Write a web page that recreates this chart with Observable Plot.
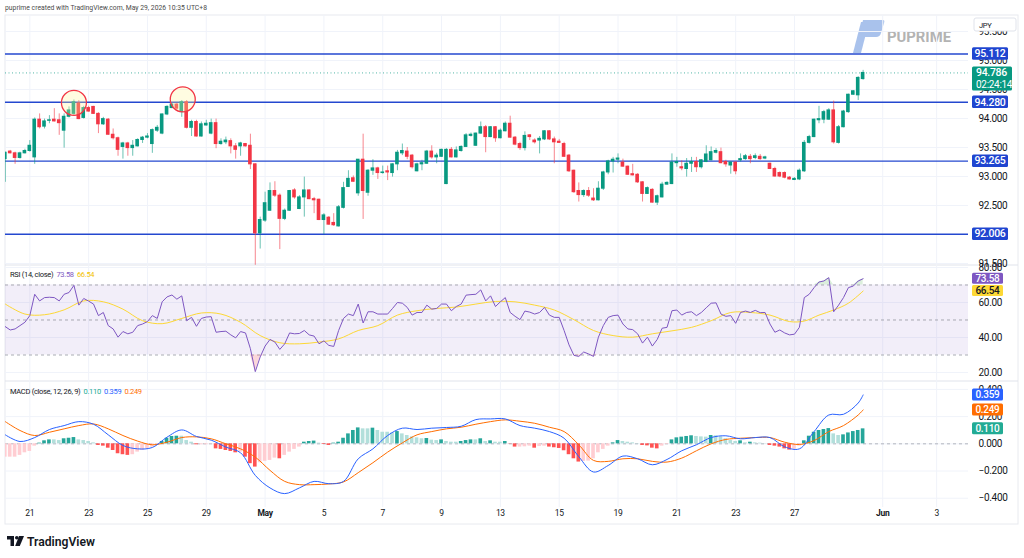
<!DOCTYPE html>
<html><head><meta charset="utf-8">
<script src="https://cdn.jsdelivr.net/npm/d3@7"></script>
<script src="https://cdn.jsdelivr.net/npm/@observablehq/plot@0.6"></script>
<style>
body{margin:0;background:#fff;}
#wrap{position:relative;width:1024px;height:558px;overflow:hidden;background:#fff;}
#wrap svg{position:absolute;left:0;}
</style></head><body><div id="wrap"></div>
<script>
// ---------- data ----------
const candleOpen = [93.30,93.43,93.40,93.32,93.40,93.44,93.33,93.98,93.86,93.96, 93.98,93.97,93.79,94.03,94.08,94.26,94.01,94.18,94.20,94.08, 93.90,93.98,93.72,93.66,93.51,93.57,93.49,93.52,93.63,93.67, 93.56,93.79,93.74,94.07,94.18,94.24,94.11,94.28,93.84,93.94, 93.69,93.88,93.74,93.92,93.56,93.59,93.61,93.52,93.52,93.56, 93.53,93.21,92.02,92.24,92.41,92.75,92.67,92.27,92.41,92.76, 92.44,92.64,92.76,92.61,92.60,92.25,92.29,92.20,92.14,92.46, 92.82,92.97,92.71,93.29,92.72,93.10,93.14,93.06,93.09,93.06, 93.21,93.40,93.43,93.36,93.09,93.21,93.22,93.43,93.33,93.34, 92.87,93.46,93.33,93.44,93.51,93.70,93.53,93.74,93.85,93.68, 93.85,93.66,93.78,93.91,93.67,93.56,93.49,93.71,93.62,93.62, 93.64,93.78,93.64,93.60,93.56,93.36,93.10,92.75,92.68,92.75, 92.62,92.59,92.79,93.07,93.26,93.29,93.24,93.17,93.04,93.03, 92.90,92.70,92.77,92.55,92.64,92.86,92.87,93.23,93.16,93.13, 93.22,93.25,93.16,93.25,93.28,93.41,93.42,93.25,93.19,93.24, 93.28,93.30,93.34,93.32,93.34,93.31,93.22,93.13,93.06,93.06, 92.98,92.94,92.95,93.09,93.58,93.68,93.97,93.98,93.98,94.14, 93.58,93.85,94.11,94.41,94.40,94.68];
const candleHigh = [93.42,93.45,93.42,93.42,93.47,93.62,94.01,94.08,93.99,94.05, 94.17,94.08,94.08,94.20,94.32,94.31,94.21,94.21,94.21,94.10, 94.02,94.00,93.82,93.68,93.59,93.59,93.62,93.65,93.69,93.74, 93.82,93.88,94.08,94.22,94.26,94.26,94.31,94.31,93.97,93.97, 93.94,93.97,93.99,93.99,93.65,93.68,93.65,93.57,93.59,93.57, 93.73,93.22,92.30,92.73,92.89,92.91,92.70,92.44,92.76,92.79, 92.67,92.99,92.77,92.64,92.61,92.36,92.31,92.36,92.50,92.90, 93.10,93.01,93.29,93.73,93.12,93.29,93.16,93.18,93.18,93.22, 93.45,93.56,93.50,93.38,93.23,93.28,93.45,93.53,93.40,93.47, 93.48,93.50,93.51,93.53,93.74,93.75,93.75,93.94,93.88,93.86, 93.86,93.82,93.94,94.04,93.69,93.59,93.77,93.72,93.65,93.69, 93.79,93.79,93.68,93.64,93.59,93.38,93.11,92.89,92.77,92.81, 92.79,92.91,93.09,93.28,93.33,93.39,93.30,93.18,93.21,93.05, 92.91,92.82,92.79,92.68,92.90,92.91,93.39,93.33,93.27,93.31, 93.33,93.33,93.29,93.53,93.51,93.48,93.49,93.28,93.25,93.25, 93.39,93.38,93.38,93.39,93.38,93.35,93.23,93.16,93.08,93.08, 93.00,92.98,93.13,93.62,93.71,93.99,94.21,94.14,94.17,94.30, 93.88,94.14,94.42,94.48,94.72,94.83];
const candleLow = [92.90,93.39,93.21,93.30,93.39,93.42,93.21,93.82,93.82,93.91, 93.94,93.71,93.49,94.01,94.05,93.98,93.99,94.11,94.07,93.74, 93.88,93.71,93.63,93.35,93.30,93.35,93.35,93.51,93.57,93.65, 93.40,93.76,93.72,94.05,94.17,94.14,94.02,93.82,93.69,93.68, 93.68,93.87,93.72,93.48,93.54,93.55,93.39,93.30,93.35,93.51, 93.12,91.47,91.75,92.21,92.40,92.64,91.74,92.24,92.40,92.61, 92.43,92.30,92.60,92.36,92.24,92.00,92.16,92.14,92.13,92.44, 92.81,92.90,92.66,92.26,92.66,93.02,92.95,93.04,92.93,92.99, 93.10,93.36,93.29,93.13,93.08,93.10,93.21,93.30,93.22,93.33, 92.86,93.32,93.32,93.42,93.50,93.68,93.52,93.73,93.41,93.67, 93.59,93.65,93.77,93.66,93.53,93.45,93.44,93.62,93.56,93.39, 93.62,93.62,93.22,93.57,93.33,93.07,92.71,92.56,92.64,92.64, 92.57,92.58,92.76,93.03,93.06,93.22,93.16,93.02,93.01,92.88, 92.56,92.69,92.54,92.50,92.63,92.85,92.86,93.16,93.10,92.99, 93.07,93.07,93.13,93.24,93.27,93.39,93.22,93.16,93.04,93.03, 93.25,93.28,93.22,93.29,93.28,93.29,93.12,92.99,92.98,92.96, 92.94,92.93,92.93,93.07,93.56,93.67,93.91,93.91,93.97,93.56, 93.56,93.84,94.09,94.40,94.31,94.66];
const candleClose = [93.41,93.40,93.32,93.40,93.44,93.53,93.98,93.85,93.95,93.97, 93.95,93.92,94.03,94.14,94.28,93.99,94.18,94.12,94.08,93.90, 93.99,93.72,93.66,93.46,93.57,93.49,93.53,93.63,93.67,93.69, 93.80,93.84,94.07,94.20,94.24,94.17,94.28,93.84,93.94,93.69, 93.90,93.91,93.92,93.56,93.60,93.62,93.52,93.46,93.57,93.52, 93.21,92.02,92.25,92.54,92.75,92.67,92.27,92.41,92.75,92.64, 92.64,92.76,92.61,92.59,92.25,92.33,92.17,92.16,92.47,92.80, 92.96,92.91,93.29,92.75,93.10,93.14,93.06,93.07,93.07,93.21, 93.41,93.44,93.34,93.16,93.21,93.23,93.43,93.33,93.36,93.46, 93.46,93.33,93.45,93.51,93.71,93.72,93.74,93.85,93.68,93.85, 93.66,93.79,93.91,93.67,93.55,93.49,93.70,93.68,93.59,93.65, 93.78,93.64,93.59,93.58,93.34,93.09,92.73,92.68,92.75,92.67, 92.59,92.79,93.07,93.26,93.29,93.31,93.17,93.03,93.02,92.90, 92.70,92.80,92.55,92.66,92.86,92.89,93.24,93.25,93.14,93.22, 93.25,93.16,93.28,93.38,93.42,93.44,93.23,93.21,93.24,93.09, 93.30,93.35,93.30,93.35,93.30,93.33,93.13,93.00,93.00,92.98, 92.95,92.96,93.10,93.58,93.68,93.98,93.99,94.11,94.14,93.59, 93.85,94.12,94.41,94.47,94.70,94.786];

const rsiValues = [46.2,44.3,44.9,46.8,48.7,52.5,64.7,60.9,62.8,63.0, 62.8,60.9,64.7,65.7,69.8,58.5,62.3,60.8,59.1,52.5, 54.3,46.8,44.9,40.2,43.4,42.1,43.0,46.8,47.7,49.1, 52.5,50.9,60.4,63.2,64.3,61.9,63.8,49.6,51.5,46.4, 50.9,51.7,51.9,43.0,43.4,43.6,41.5,39.8,43.4,42.6, 33.6,20.5,28.9,35.1,38.9,37.4,33.2,36.4,42.6,42.1, 42.3,44.0,41.5,40.8,36.4,38.1,35.5,34.9,44.0,50.9, 53.4,52.5,59.1,48.3,54.7,54.7,53.4,53.4,53.4,56.6, 60.0,59.6,57.2,52.8,54.3,54.3,58.5,56.2,56.6,59.1, 59.1,55.3,57.7,59.1,64.2,64.5,64.7,67.2,60.9,63.8, 57.7,60.4,62.8,54.3,52.1,50.2,55.1,54.5,53.4,54.3, 57.2,52.8,51.5,51.5,44.0,35.8,29.8,29.2,31.7,30.6, 29.2,40.2,46.8,51.5,52.5,52.8,47.7,44.9,44.5,42.1, 36.8,40.2,35.1,38.9,45.3,45.8,55.3,55.7,52.8,54.3, 54.7,52.5,54.3,57.0,59.6,59.8,53.4,52.1,52.5,48.1, 54.3,55.1,54.3,55.5,54.2,54.3,47.7,43.0,44.3,42.6, 41.5,41.9,45.8,62.8,64.7,68.5,71.7,72.3,74.2,54.7, 58.5,62.8,68.5,69.4,72.3,73.58];
const rsiMaIndex = [1,5,9,13,17,21,25,29,33,37,41,45,49,53,57,61,65,69,73,77,81,85,89,93,97,101,105,109,113,117,121,125,129,133,137,141,145,149,153,157,161,164,167,170,173,176];
const rsiMaValues = [59.1,53.4,53.0,55.8,60.9,60.4,56.2,49.6,47.9,50.9,54.0,53.4,48.7,41.1,37.0,36.4,37.4,39.2,44.0,46.8,52.8,55.3,56.6,57.4,59.1,60.6,60.4,58.5,55.7,50.2,44.0,41.1,40.2,42.1,43.8,45.8,49.6,54.3,54.3,52.8,49.1,49.4,52.8,55.7,59.6,66.54];

const macdIndex = [1,4,7,10,13,16,19,22,25,28,31,34,37,40,43,46,49,52,55,58,61,64,67,70,73,76,79,82,85,88,91,94,97,100,103,106,109,112,115,118,121,124,127,130,133,136,139,142,145,148,151,154,157,160,163,166,169,172,175,176];
const macdValues = [0.066,0.017,0.046,0.105,0.134,0.163,0.144,0.066,-0.012,-0.037,-0.027,0.049,0.102,0.054,0.027,-0.024,-0.066,-0.232,-0.324,-0.366,-0.324,-0.276,-0.293,-0.276,-0.110,-0.037,0.061,0.115,0.105,0.115,0.120,0.129,0.178,0.183,0.183,0.134,0.115,0.090,0.041,-0.095,-0.207,-0.159,-0.090,-0.110,-0.154,-0.115,-0.051,-0.007,0.046,0.059,0.037,0.046,0.046,-0.022,-0.037,0.090,0.212,0.217,0.300,0.359];
const signalValues = [0.163,0.098,0.061,0.085,0.110,0.134,0.146,0.110,0.061,0.020,-0.007,0.012,0.046,0.051,0.037,0.000,-0.037,-0.098,-0.195,-0.276,-0.300,-0.300,-0.295,-0.280,-0.212,-0.139,-0.061,0.007,0.066,0.090,0.110,0.122,0.144,0.163,0.176,0.166,0.151,0.122,0.090,-0.007,-0.122,-0.129,-0.110,-0.110,-0.129,-0.134,-0.105,-0.051,0.000,0.032,0.041,0.046,0.046,0.012,-0.005,0.024,0.090,0.134,0.212,0.249];
const histValues = [-0.098,-0.098,-0.098,-0.085,-0.066,-0.056,-0.017,0.005,0.022,0.029, 0.029,0.024,0.037,0.041,0.046,0.029,0.024,0.017,0.007,-0.012, -0.017,-0.032,-0.049,-0.073,-0.080,-0.085,-0.080,-0.061,-0.049,-0.037, -0.024,-0.007,0.017,0.041,0.054,0.056,0.056,0.024,0.012,-0.007, -0.007,-0.007,-0.002,-0.037,-0.041,-0.049,-0.056,-0.066,-0.061,-0.098, -0.146,-0.171,-0.139,-0.129,-0.122,-0.105,-0.110,-0.085,-0.061,-0.041, -0.024,0.012,0.017,0.020,0.005,-0.005,-0.012,0.005,0.012,0.041, 0.073,0.098,0.117,0.110,0.110,0.115,0.098,0.085,0.085,0.080, 0.090,0.073,0.061,0.051,0.044,0.037,0.039,0.027,0.024,0.029, 0.017,0.012,0.012,0.017,0.024,0.029,0.029,0.037,0.017,0.022, 0.012,0.012,0.017,-0.002,-0.024,-0.024,-0.022,-0.017,-0.032,-0.020, -0.017,-0.024,-0.029,-0.034,-0.051,-0.080,-0.110,-0.134,-0.129,-0.127, -0.110,-0.066,-0.041,-0.017,0.007,0.024,0.017,0.012,0.007,0.002, -0.012,-0.015,-0.032,-0.037,-0.017,-0.005,0.029,0.044,0.049,0.054, 0.059,0.054,0.051,0.049,0.061,0.059,0.051,0.037,0.024,0.017, 0.022,0.007,0.012,0.007,0.005,0.002,-0.012,-0.017,-0.024,-0.037, -0.046,-0.041,-0.017,0.022,0.056,0.085,0.098,0.105,0.112,0.073, 0.061,0.066,0.080,0.090,0.098,0.110];

const levels = [95.112, 94.280, 93.265, 92.006];
const lastPrice = 94.786;
const countdown = "02:24:14";
const circleIndex = [15, 37.2];
const circlePrice = [94.27, 94.33];
const priceTicks = [91.5, 92, 92.5, 93, 93.5, 94, 94.5, 95, 95.5];
const rsiTicks = [20, 40, 60, 80];
const macdTicks = [-0.4, -0.2, 0, 0.2, 0.4];
const dateTickIndex = [6, 18, 30, 42, 54, 66, 78, 90, 102, 114, 126, 138, 150, 162, 180, 191];
const dateTickLabels = ["21","23","25","29","May","5","7","9","13","15","19","21","23","27","Jun","3"];

// ---------- setup ----------
const FONT = "Roboto, 'Liberation Sans', Arial, sans-serif";
const GREEN = "#089981", RED = "#f23645", BLUE = "#2448cf", GRID = "#f0f3fa";
const xDomain = [1.04, 197.5];
const wrap = d3.select("#wrap");

const candles = candleOpen.map((o, k) => ({i: k + 1, o, h: candleHigh[k], l: candleLow[k], c: candleClose[k]}));
const rsi = rsiValues.map((r, k) => ({i: k + 1, r}));
const rsiMa = rsiMaIndex.map((i, k) => ({i, v: rsiMaValues[k]}));
const macd = macdIndex.map((i, k) => ({i, m: macdValues[k], s: signalValues[k]}));
const hist = histValues.map((h, k) => {
  const prev = k > 0 ? histValues[k - 1] : h;
  const col = h >= 0 ? (h > prev ? "#26a69a" : "#b2dfdb") : (h < prev ? "#ff5252" : "#ffcdd2");
  return {i: k + 1, h, col};
});
const dateTicks = dateTickIndex.map((x, k) => ({x, label: dateTickLabels[k], month: isNaN(+dateTickLabels[k])}));

const common = {
  width: 1024, marginLeft: 5, marginRight: 56, marginTop: 0,
  color: {type: "identity"},
  style: {fontFamily: FONT, fontSize: "10px", color: "#131722", background: "transparent", overflow: "visible", letterSpacing: "-0.3px"}
};
const X = {domain: xDomain, axis: null, label: null};

// ---------- background overlay (frame, header, watermark, footer) ----------
const bg = wrap.append("svg").attr("width", 1024).attr("height", 558).style("top", "0px");
bg.append("text").attr("x", 5).attr("y", 9.5).attr("font-family", FONT).attr("font-size", 7.5)
  .attr("fill", "#4a4a4a").attr("textLength", 202).attr("lengthAdjust", "spacingAndGlyphs")
  .text("puprime created with TradingView.com, May 29, 2026 10:35 UTC+8");
bg.append("rect").attr("x", 5).attr("y", 15).attr("width", 1013).attr("height", 509).attr("fill", "none").attr("stroke", "#e8eaef");
[265, 381].forEach(y => bg.append("line").attr("x1", 5).attr("x2", 1018).attr("y1", y).attr("y2", y).attr("stroke", "#e0e3eb"));
// PUPRIME watermark
bg.append("path").attr("d", "M853,53 L861,22 L869,22 L861,53 Z").attr("fill", "#a9c2ec");
bg.append("path").attr("d", "M863,20 L883,20 Q885,20 884,23 L881,33 Q880,37 876,37 L859,37 Z").attr("fill", "#a9c2ec");
bg.append("text").attr("x", 887).attr("y", 42).attr("font-family", FONT).attr("font-weight", 700)
  .attr("font-size", 15).attr("fill", "#b3b3b3").attr("textLength", 64).attr("lengthAdjust", "spacingAndGlyphs").text("PUPRIME");
// TradingView footer
bg.append("rect").attr("x", 7).attr("y", 536).attr("width", 7).attr("height", 3.5).attr("fill", "#131722");
bg.append("rect").attr("x", 10.5).attr("y", 536).attr("width", 3.5).attr("height", 10).attr("fill", "#131722");
bg.append("circle").attr("cx", 16.8).attr("cy", 537.8).attr("r", 1.8).attr("fill", "#131722");
bg.append("path").attr("d", "M19,536 L24,536 L19.8,546 L15.2,546 Z").attr("fill", "#131722");
bg.append("text").attr("x", 27).attr("y", 545.5).attr("font-family", FONT).attr("font-weight", 600)
  .attr("font-size", 13).attr("fill", "#131722").attr("textLength", 68).attr("lengthAdjust", "spacingAndGlyphs").text("TradingView");

function box(svg, x, y, w, h, fill, txt, color, size) {
  const g = d3.select(svg).append("g");
  g.append("rect").attr("x", x).attr("y", y - h / 2).attr("width", w).attr("height", h).attr("fill", fill).attr("rx", 1.5);
  g.append("text").attr("x", x + w / 2).attr("y", y).attr("dy", "0.36em").attr("text-anchor", "middle")
    .attr("fill", color).attr("font-family", FONT).attr("font-size", size || 10).attr("font-weight", 500).text(txt);
}

// ---------- price pane ----------
const pricePlot = Plot.plot({
  ...common, height: 250, marginBottom: 0,
  x: X, y: {domain: [91.466, 95.776], label: null},
  marks: [
    Plot.ruleY(priceTicks, {stroke: GRID}),
    Plot.ruleX(dateTickIndex, {stroke: GRID}),
    Plot.axisY(priceTicks, {anchor: "right", tickSize: 0, tickPadding: 10, tickFormat: d3.format(".3f"), fill: "#131722", fontSize: 10}),
    Plot.ruleY([lastPrice], {stroke: GREEN, strokeDasharray: "1,2.5", strokeOpacity: 0.7}),
    Plot.ruleY(levels, {stroke: BLUE, strokeWidth: 1.4}),
    Plot.ruleX(candles, {x: "i", y1: "l", y2: "h", stroke: d => d.c >= d.o ? GREEN : RED, strokeOpacity: 0.6, clip: true}),
    Plot.rect(candles, {x1: d => d.i - 0.37, x2: d => d.i + 0.37, y1: "o", y2: "c", fill: d => d.c >= d.o ? GREEN : RED, insetTop: -0.5, insetBottom: -0.5, clip: true}),
    Plot.dot(circleIndex.map((i, k) => ({i, p: circlePrice[k]})), {x: "i", y: "p", r: 12.5, stroke: RED, strokeWidth: 1.3, fill: "#fff59d", fillOpacity: 0.3})
  ]
});
d3.select(pricePlot).style("top", "15px");
wrap.node().appendChild(pricePlot);
{
  const sy = pricePlot.scale("y");
  const g = d3.select(pricePlot).append("g").attr("text-anchor", "start");
  g.append("rect").attr("x", 974).attr("y", 3).attr("width", 42).attr("height", 13).attr("fill", "#fff").attr("stroke", "#e0e3eb").attr("rx", 2);
  g.append("text").attr("x", 979).attr("y", 12.5).attr("font-family", FONT).attr("font-size", 7.5).attr("fill", "#131722").text("JPY");
  levels.forEach(v => box(pricePlot, 972, sy.apply(v), 36, 12.5, "#1f45d0", v.toFixed(3), "#fff", 10.5));
  const yp = sy.apply(lastPrice);
  const pg = d3.select(pricePlot).append("g").attr("text-anchor", "start");
  pg.append("rect").attr("x", 972).attr("y", yp - 5.8).attr("width", 40).attr("height", 24).attr("fill", GREEN).attr("rx", 1.5);
  pg.append("text").attr("x", 976).attr("y", yp + 3.8).attr("fill", "#fff").attr("font-family", FONT).attr("font-size", 10.5).attr("font-weight", 500).text(lastPrice.toFixed(3));
  pg.append("text").attr("x", 976).attr("y", yp + 15.2).attr("fill", "#fff").attr("font-family", FONT).attr("font-size", 10).text(countdown);
}

// ---------- RSI pane ----------
const rsiLast = rsiValues[rsiValues.length - 1], maLast = rsiMaValues[rsiMaValues.length - 1];
const rsiPlot = Plot.plot({
  ...common, height: 116, marginBottom: 0,
  x: X, y: {domain: [14.86, 81.14], label: null},
  marks: [
    Plot.ruleY(rsiTicks, {stroke: GRID}),
    Plot.ruleX(dateTickIndex, {stroke: GRID}),
    Plot.rect([{x1: xDomain[0], x2: xDomain[1], y1: 30, y2: 70}], {x1: "x1", x2: "x2", y1: "y1", y2: "y2", fill: "#7e57c2", fillOpacity: 0.1}),
    Plot.ruleY([70, 50, 30], {stroke: "#9598a1", strokeDasharray: "3,3", strokeOpacity: 0.8}),
    Plot.axisY(rsiTicks, {anchor: "right", tickSize: 0, tickPadding: 10, tickFormat: d3.format(".2f"), fill: "#131722", fontSize: 10}),
    Plot.areaY(rsi, {x: "i", y1: 30, y2: d => Math.min(d.r, 30), fill: RED, fillOpacity: 0.2, clip: true}),
    Plot.areaY(rsi, {x: "i", y1: 70, y2: d => Math.max(d.r, 70), fill: "#4caf50", fillOpacity: 0.2, clip: true}),
    Plot.line(rsiMa, {x: "i", y: "v", stroke: "#fdd835", strokeWidth: 1, curve: "catmull-rom", clip: true}),
    Plot.line(rsi, {x: "i", y: "r", stroke: "#7e57c2", strokeWidth: 1, clip: true})
  ]
});
d3.select(rsiPlot).style("top", "265px");
wrap.node().appendChild(rsiPlot);
{
  const sy = rsiPlot.scale("y");
  const t = d3.select(rsiPlot).append("text").attr("text-anchor", "start").attr("x", 10).attr("y", 12).attr("font-family", FONT).attr("font-size", 7.5);
  t.append("tspan").attr("fill", "#131722").text("RSI (14, close) ");
  t.append("tspan").attr("fill", "#7e57c2").text(" " + rsiLast.toFixed(2));
  t.append("tspan").attr("fill", "#f2c200").text("  " + maLast.toFixed(2));
  box(rsiPlot, 972, sy.apply(rsiLast), 31, 11, "#7e57c2", rsiLast.toFixed(2), "#fff", 10);
  box(rsiPlot, 972, sy.apply(maLast), 31, 11, "#fdd835", maLast.toFixed(2), "#131722", 10);
}

// ---------- MACD pane ----------
const lastHist = histValues[histValues.length - 1], lastMacd = macdValues[macdValues.length - 1], lastSig = signalValues[signalValues.length - 1];
const macdPlot = Plot.plot({
  ...common, height: 143, marginBottom: 17,
  x: X, y: {domain: [-0.468, 0.458], label: null},
  marks: [
    Plot.ruleY(macdTicks, {stroke: GRID}),
    Plot.ruleX(dateTickIndex, {stroke: GRID}),
    Plot.ruleY([0], {stroke: "#b2b5be", strokeDasharray: "3,3"}),
    Plot.axisY(macdTicks, {anchor: "right", tickSize: 0, tickPadding: 10, tickFormat: d3.format(".3f"), fill: "#131722", fontSize: 10}),
    Plot.rect(hist, {x1: d => d.i - 0.37, x2: d => d.i + 0.37, y1: 0, y2: "h", fill: "col", clip: true}),
    Plot.line(macd, {x: "i", y: "s", stroke: "#ff6d00", strokeWidth: 1, curve: "catmull-rom", clip: true}),
    Plot.line(macd, {x: "i", y: "m", stroke: "#2962ff", strokeWidth: 1, curve: "catmull-rom", clip: true}),
    Plot.text(dateTicks.filter(d => !d.month), {x: "x", text: "label", frameAnchor: "bottom", dy: 8, fontSize: 8.5, fill: "#131722"}),
    Plot.text(dateTicks.filter(d => d.month), {x: "x", text: "label", frameAnchor: "bottom", dy: 8, fontSize: 8.5, fontWeight: 700, fill: "#131722"})
  ]
});
d3.select(macdPlot).style("top", "381px");
wrap.node().appendChild(macdPlot);
{
  const sy = macdPlot.scale("y");
  const t = d3.select(macdPlot).append("text").attr("text-anchor", "start").attr("x", 10).attr("y", 12.5).attr("font-family", FONT).attr("font-size", 7.5);
  t.append("tspan").attr("fill", "#131722").text("MACD (close, 12, 26, 9) ");
  t.append("tspan").attr("fill", "#22ab94").text(" " + lastHist.toFixed(3));
  t.append("tspan").attr("fill", "#2962ff").text("  " + lastMacd.toFixed(3));
  t.append("tspan").attr("fill", "#ff6d00").text("  " + lastSig.toFixed(3));
  box(macdPlot, 972, sy.apply(lastMacd), 31, 12, "#2962ff", lastMacd.toFixed(3), "#fff", 10);
  box(macdPlot, 972, sy.apply(lastSig), 31, 12, "#ff6d00", lastSig.toFixed(3), "#fff", 10);
  box(macdPlot, 972, sy.apply(lastHist), 31, 12, "#22ab94", lastHist.toFixed(3), "#fff", 10);
}
</script></body></html>
